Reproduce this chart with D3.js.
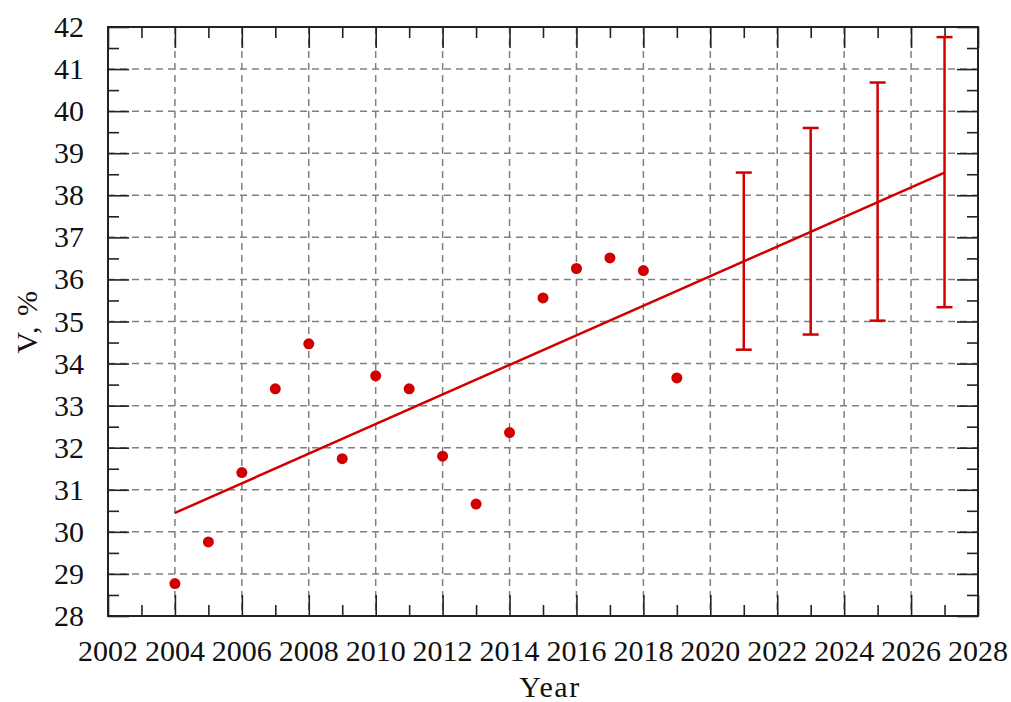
<!DOCTYPE html>
<html>
<head>
<meta charset="utf-8">
<script src="https://cdn.jsdelivr.net/npm/d3@7"></script>
<style>
  body { margin: 0; background: #fff; }
  text { font-family: "Liberation Serif", "Times New Roman", serif; fill: #111; }
</style>
</head>
<body>
<svg id="chart" width="1011" height="702"></svg>
<script>
// observed values
var years  = [2004, 2005, 2006, 2007, 2008, 2009, 2010, 2011, 2012, 2013, 2014, 2015, 2016, 2017, 2018, 2019];
var values = [28.77, 29.76, 31.41, 33.40, 34.47, 31.74, 33.71, 33.40, 31.80, 30.66, 32.36, 35.56, 36.26, 36.51, 36.21, 33.66];

// trend line end points
var trendYears  = [2004, 2027];
var trendValues = [30.45, 38.54];

// forecast intervals
var fcYears = [2021, 2023, 2025, 2027];
var fcLow   = [34.33, 34.69, 35.02, 35.34];
var fcHigh  = [38.54, 39.60, 40.68, 41.76];

var xTicks = d3.range(2002, 2029, 2);
var yTicks = d3.range(28, 43, 1);

var svg = d3.select("#chart");
var pLeft = 108, pRight = 978, pTop = 27, pBottom = 616;
var red = "#d10000";

var x = d3.scaleLinear().domain([2002, 2028]).range([pLeft, pRight]);
var y = d3.scaleLinear().domain([28, 42]).range([pBottom, pTop]);

// grid
var grid = svg.append("g")
    .attr("stroke", "#808080")
    .attr("stroke-width", 1.5)
    .attr("stroke-dasharray", "7,5");
grid.selectAll(".gx").data(xTicks.slice(1, -1)).enter().append("line")
    .attr("x1", function(d) { return x(d); }).attr("x2", function(d) { return x(d); })
    .attr("y1", pTop).attr("y2", pBottom);
grid.selectAll(".gy").data(yTicks.slice(1, -1)).enter().append("line")
    .attr("y1", function(d) { return y(d); }).attr("y2", function(d) { return y(d); })
    .attr("x1", pLeft).attr("x2", pRight);

// axes with inward ticks on all four sides
function tickAxis(axis, scale, vals, size, pos) {
  return svg.append("g")
      .attr("transform", pos)
      .call(axis(scale).tickValues(vals).tickSize(size).tickFormat(""))
      .call(function(g) { g.select(".domain").remove(); })
      .call(function(g) { g.selectAll("line").attr("stroke", "#222").attr("stroke-width", 1.6); });
}
var xMinor = d3.range(2003, 2028, 2);
var yMinor = d3.range(28.5, 42, 1);
tickAxis(d3.axisTop, x, xTicks, 21, "translate(0," + pBottom + ")");
tickAxis(d3.axisTop, x, xMinor, 11, "translate(0," + pBottom + ")");
tickAxis(d3.axisBottom, x, xTicks, 21, "translate(0," + pTop + ")");
tickAxis(d3.axisBottom, x, xMinor, 11, "translate(0," + pTop + ")");
tickAxis(d3.axisRight, y, yTicks, 21, "translate(" + pLeft + ",0)");
tickAxis(d3.axisRight, y, yMinor, 11, "translate(" + pLeft + ",0)");
tickAxis(d3.axisLeft, y, yTicks, 21, "translate(" + pRight + ",0)");
tickAxis(d3.axisLeft, y, yMinor, 11, "translate(" + pRight + ",0)");

svg.append("rect")
    .attr("x", pLeft).attr("y", pTop)
    .attr("width", pRight - pLeft).attr("height", pBottom - pTop)
    .attr("fill", "none").attr("stroke", "#222").attr("stroke-width", 2);

// tick labels
svg.append("g").selectAll("text").data(xTicks).enter().append("text")
    .attr("x", function(d) { return x(d); })
    .attr("y", 661)
    .attr("text-anchor", "middle")
    .attr("font-size", 30)
    .text(function(d) { return d; });
svg.append("g").selectAll("text").data(yTicks).enter().append("text")
    .attr("x", 84)
    .attr("y", function(d) { return y(d) + 10; })
    .attr("text-anchor", "end")
    .attr("font-size", 30)
    .text(function(d) { return d; });

svg.append("text")
    .attr("x", (pLeft + pRight) / 2 + 7).attr("y", 697)
    .attr("text-anchor", "middle").attr("font-size", 30)
    .attr("letter-spacing", 1.5)
    .text("Year");
svg.append("text")
    .attr("transform", "translate(37," + ((pTop + pBottom) / 2) + ") rotate(-90)")
    .attr("text-anchor", "middle").attr("font-size", 30)
    .attr("letter-spacing", 1.5)
    .text("V, %");

// trend line
var line = d3.line().x(function(d) { return x(d[0]); }).y(function(d) { return y(d[1]); });
svg.append("path")
    .datum(d3.zip(trendYears, trendValues))
    .attr("d", line)
    .attr("fill", "none").attr("stroke", red).attr("stroke-width", 2.5);

// forecast error bars
var fc = svg.append("g").attr("stroke", red).attr("stroke-width", 2.5);
fcYears.forEach(function(yr, i) {
  fc.append("line").attr("x1", x(yr)).attr("x2", x(yr)).attr("y1", y(fcLow[i])).attr("y2", y(fcHigh[i]));
  fc.append("line").attr("x1", x(yr) - 8).attr("x2", x(yr) + 8).attr("y1", y(fcLow[i])).attr("y2", y(fcLow[i]));
  fc.append("line").attr("x1", x(yr) - 8).attr("x2", x(yr) + 8).attr("y1", y(fcHigh[i])).attr("y2", y(fcHigh[i]));
});

// observed points
svg.append("g").selectAll("circle").data(d3.zip(years, values)).enter().append("circle")
    .attr("cx", function(d) { return x(d[0]); })
    .attr("cy", function(d) { return y(d[1]); })
    .attr("r", 5.5)
    .attr("fill", red);
</script>
</body>
</html>
